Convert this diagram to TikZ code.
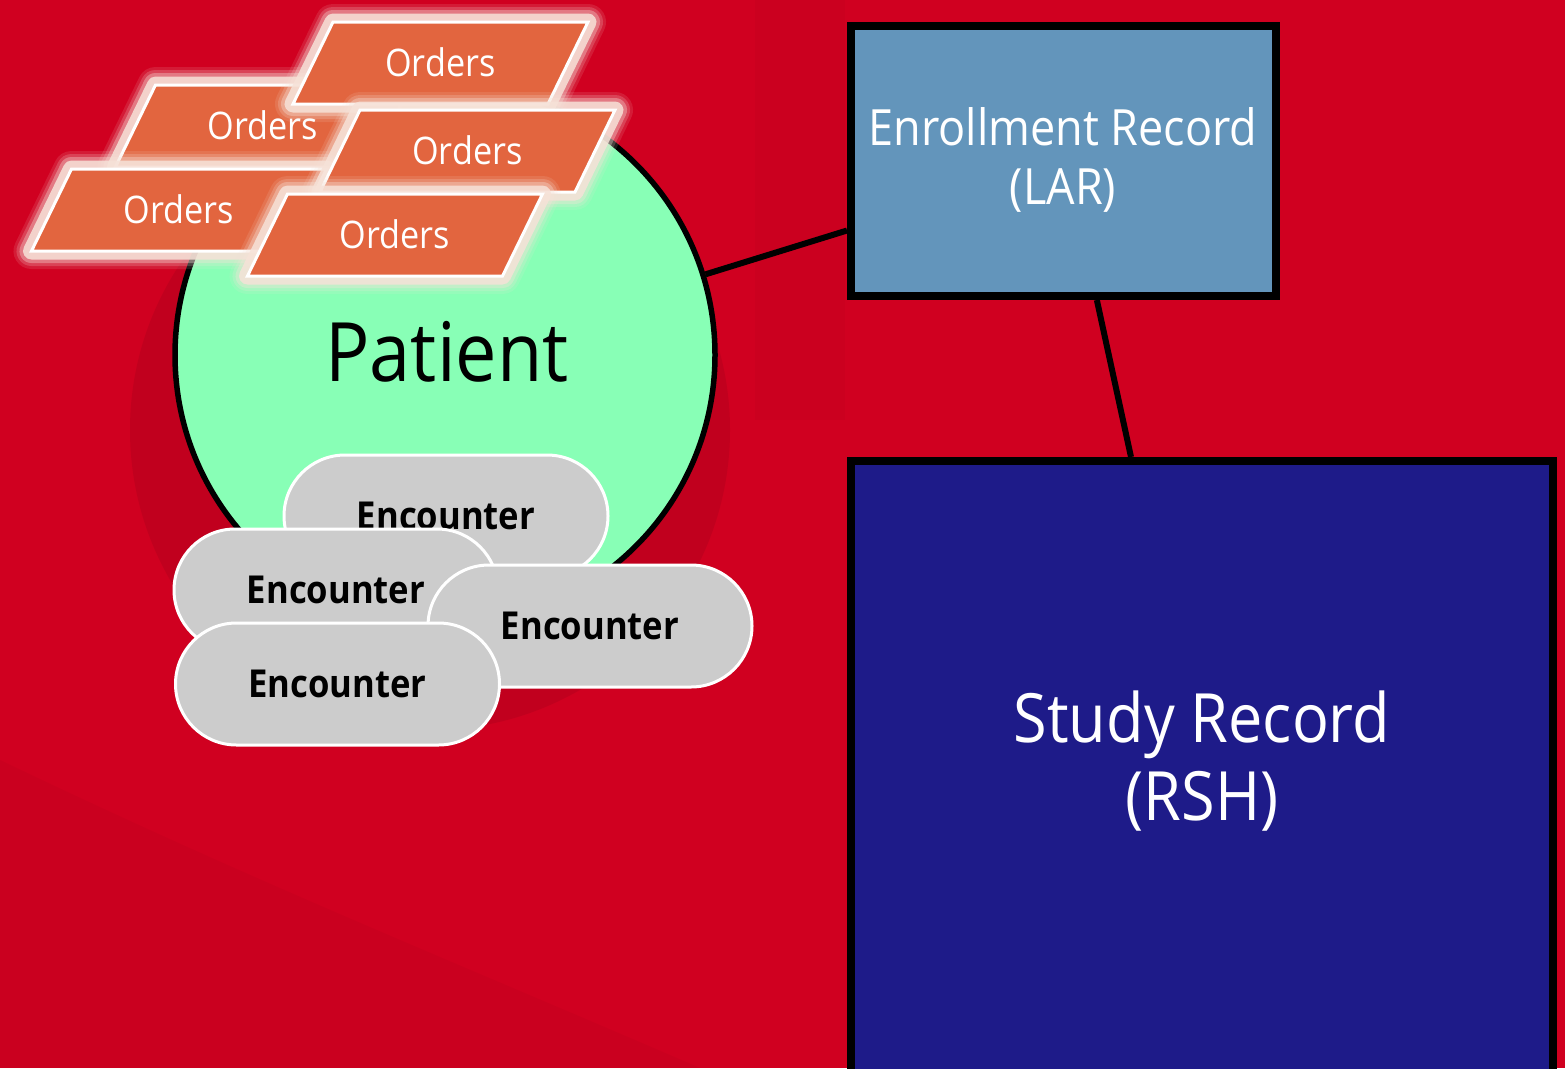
\documentclass[tikz,border=0pt]{standalone}
\usepackage{fontspec}
\setmainfont{Open Sans}[FakeStretch=0.9]
\usetikzlibrary{calc}
\definecolor{bgred}{RGB}{208,0,32}
\definecolor{darkred}{RGB}{150,0,25}
\definecolor{patientgreen}{RGB}{136,255,182}
\definecolor{larblue}{RGB}{99,149,187}
\definecolor{rshblue}{RGB}{30,27,137}
\definecolor{ordersorange}{RGB}{226,101,63}
\definecolor{encgrey}{RGB}{204,204,204}
\definecolor{glowpeach}{RGB}{246,226,216}
\tikzset{
  ordersbox/.style={fill=ordersorange, draw=white, line width=3pt, line join=miter},
  glowline/.style={draw=glowpeach, line join=round, opacity=#1},
  ordertext/.style={text=white, inner sep=0pt, font=\fontsize{38}{46}\selectfont},
  enc/.style={draw=white, line width=3pt, fill=encgrey, rounded corners=61pt,
    minimum width=324pt, minimum height=122pt, inner sep=0pt,
    font=\fontsize{38.5}{46}\selectfont\bfseries},
  record/.style={draw=black, line width=8pt, inner sep=0pt},
  recordtext/.style={text=white, align=center, inner sep=0pt},
  link/.style={draw=black, line width=6pt},
}
\newcommand\ordersshape[3]{%
  \foreach \w/\o in {36/0.12, 30/0.2, 24/0.35, 17/0.85}{
    \path[glowline=\o, line width=\w pt] (#2,#3) -- ++(255,0) -- ++(-40,82) -- ++(-255,0) -- cycle;
  }
  \path[ordersbox] (#2,#3) -- ++(255,0) -- ++(-40,82) -- ++(-255,0) -- cycle;
  \node[ordertext] (#1) at (#2+107.5,#3+40) {Orders};
}
\begin{document}
\begin{tikzpicture}[x=1pt,y=-1pt]
  \useasboundingbox (0,0) rectangle (1565,1068);
  \clip (0,0) rectangle (1565,1068);
  % background
  \fill[bgred] (0,0) rectangle (1565,1068);
  \fill[darkred, opacity=.25] (430,430) circle (300);
  \fill[darkred, opacity=.08] (755,0) rectangle (845,420);
  \fill[darkred, opacity=.10] (0,760) .. controls (250,880) and (450,960) .. (700,1068) -- (0,1068) -- cycle;
  % patient
  \node[circle, draw=black, line width=5.5pt, fill=patientgreen, minimum size=540pt,
        inner sep=0pt] (patient) at (445,355) {};
  \node[inner sep=0pt, font=\fontsize{82}{96}\selectfont] (patientlabel) at (447,352) {Patient};
  % records
  \node[record, fill=larblue, minimum width=425pt, minimum height=270pt] (lar) at (1063.5,161) {};
  \node[recordtext, font=\fontsize{50}{59}\selectfont] (lartext) at (1063,160) {Enrollment Record\\(LAR)};
  \node[record, fill=rshblue, minimum width=702pt, minimum height=620pt] (rsh) at (1202,771) {};
  \node[recordtext, font=\fontsize{68}{78}\selectfont] (rshtext) at (1202,761) {Study Record\\(RSH)};
  % connectors
  \draw[link] (patient) -- ($(lar.south west)!0.25!(lar.north west)$);
  \draw[link] ($(lar.south west)!0.577!(lar.south east)$) -- ($(rsh.north west)!0.4!(rsh.north east)$);
  % orders
  \ordersshape{o2}{155.5}{85}
  \ordersshape{o4}{71.5}{169}
  \ordersshape{o1}{333}{22}
  \ordersshape{o3}{360}{110}
  \ordersshape{o5}{287.5}{194}
  % encounters
  \node[enc] (e1) at (446,516) {Encounter};
  \node[enc] (e2) at (336,590) {Encounter};
  \node[enc] (e3) at (590,626) {Encounter};
  \node[enc] (e4) at (337.5,684) {Encounter};
\end{tikzpicture}
\end{document}
